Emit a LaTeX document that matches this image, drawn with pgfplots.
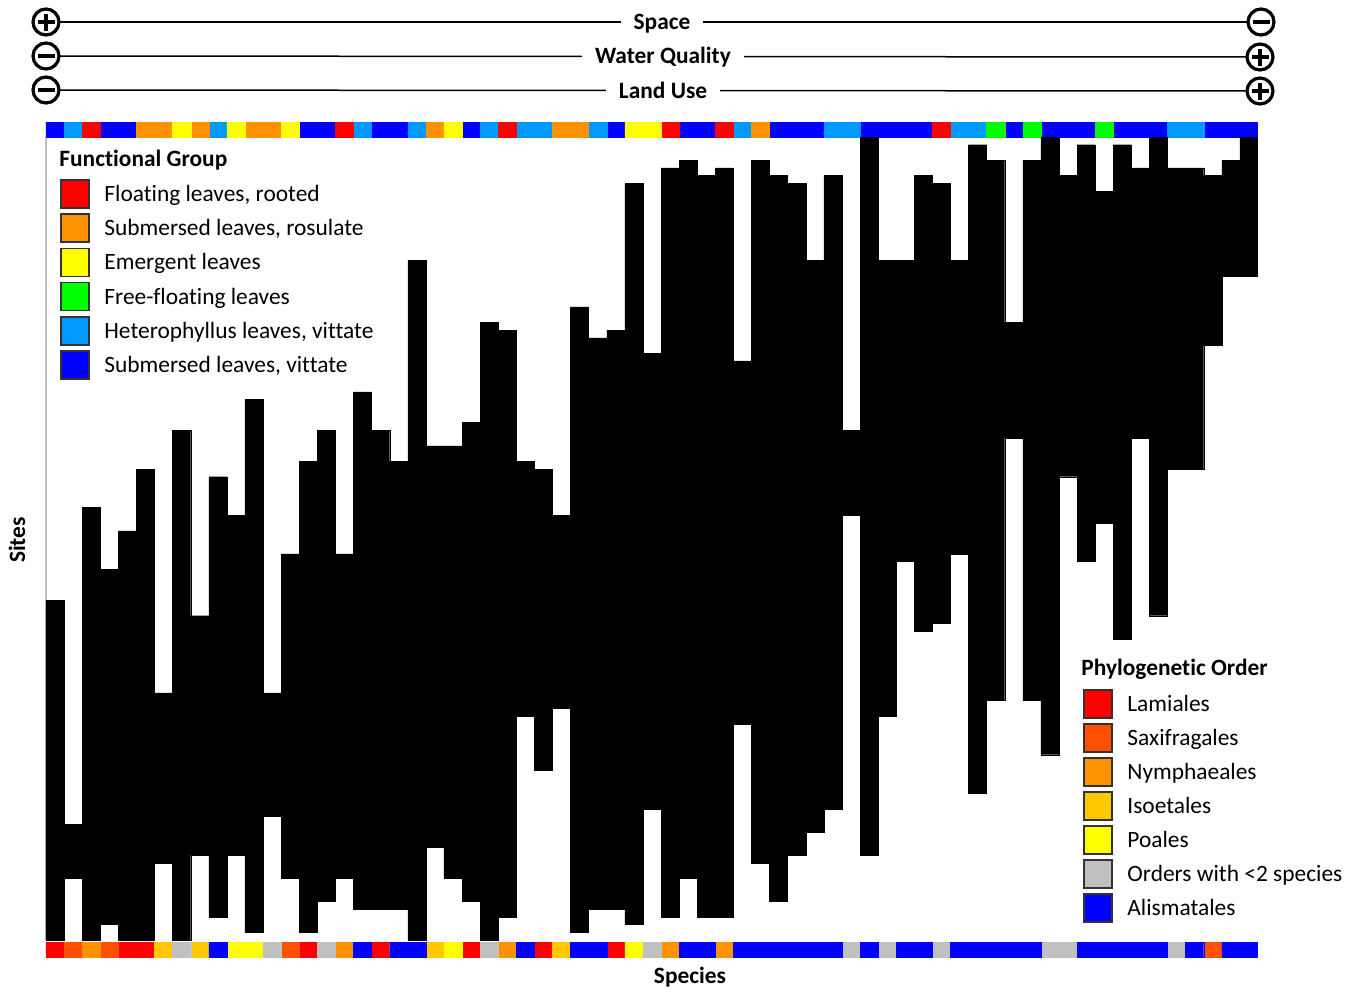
\documentclass[border=0pt]{standalone}
\usepackage{pgfplots}
\pgfplotsset{compat=1.18}
\usepackage{pgfplotstable}
\usepackage{fontspec}
\setmainfont{Carlito}[Ligatures={NoCommon}]

\definecolor{cR}{RGB}{255,0,0}
\definecolor{cO}{RGB}{255,146,0}
\definecolor{cY}{RGB}{255,255,0}
\definecolor{cG}{RGB}{0,255,0}
\definecolor{cLB}{RGB}{0,153,255}
\definecolor{cB}{RGB}{0,0,255}
\definecolor{cSax}{RGB}{255,80,0}
\definecolor{cIso}{RGB}{255,200,0}
\definecolor{cGr}{RGB}{192,192,192}

% species x site occurrence: each column = species, black from row lo to lo+len
\pgfplotstableread{
x lo len
0.5 0 44
1.5 8 7
2.5 0 56
3.5 2 46
4.5 0 53
5.5 0 61
6.5 10 22
7.5 0 66
8.5 11 31
9.5 3 57
10.5 11 44
11.5 1 69
12.5 16 16
13.5 8 42
14.5 1 61
15.5 5 61
16.5 8 42
17.5 4 67
18.5 4 62
19.5 4 58
20.5 0 88
21.5 12 52
22.5 8 56
23.5 5 62
24.5 0 80
25.5 3 76
26.5 29 33
27.5 22 39
28.5 30 25
29.5 1 81
30.5 4 74
31.5 4 75
32.5 2 96
33.5 17 59
34.5 3 97
35.5 8 93
36.5 3 96
37.5 3 97
38.5 28 47
39.5 10 91
40.5 5 94
41.5 11 87
42.5 14 74
43.5 17 82
44.5 55 11
45.5 11 93
46.5 29 59
47.5 49 39
48.5 40 59
49.5 41 57
50.5 50 38
51.5 19 84
52.5 31 70
53.5 65 15
54.5 31 70
55.5 24 80
56.5 60 39
57.5 49 54
58.5 54 43
59.5 39 64
60.5 65 35
61.5 42 62
62.5 61 39
63.5 61 39
64.5 77 22
65.5 86 15
66.5 86 18
}\occdata

\pgfplotsset{
  strip/.style={scale only axis, width=606pt, height=7.5pt,
    xmin=0, xmax=67, ymin=0, ymax=1, hide axis, ybar, bar width=1},
  cell/.style={fill=#1, draw=#1, line width=0.2pt, bar shift=0pt},
}

\newcommand\pluscirc[2]{%
  \draw[line width=1.6pt, fill=white] (#1,#2) circle[radius=6.5pt];
  \fill (#1-8.5,#2-2.2) rectangle (#1+8.5,#2+2.2);
  \fill (#1-2.2,#2-8.5) rectangle (#1+2.2,#2+8.5);}
\newcommand\minuscirc[2]{%
  \draw[line width=1.6pt, fill=white] (#1,#2) circle[radius=6.5pt];
  \fill (#1-8.5,#2-2.2) rectangle (#1+8.5,#2+2.2);}

\begin{document}
\fontsize{11.7pt}{14pt}\selectfont
\begin{tikzpicture}
\begin{scope}[x=0.5pt, y=-0.5pt]
  \path (0,0) rectangle (1355,989);
  % gradient header lines
  \draw[line width=0.75pt] (46,22) -- (1261,22);
  \draw[line width=0.75pt] (46,56) -- (1260,57);
  \draw[line width=0.75pt] (46,90) -- (1260,91);
  \node[fill=white, inner xsep=6.5pt, inner ysep=1pt, anchor=base, font=\bfseries] at (662,29.5) {Space};
  \node[fill=white, inner xsep=6.5pt, inner ysep=1pt, anchor=base, font=\bfseries] at (663,63.5) {Water Quality};
  \node[fill=white, inner xsep=6.5pt, inner ysep=1pt, anchor=base, font=\bfseries] at (663,98) {Land Use};
  \pluscirc{46}{22}
  \minuscirc{1261}{22}
  \minuscirc{46}{56}
  \pluscirc{1260}{57}
  \minuscirc{46}{90}
  \pluscirc{1260}{91}
  % left frame line
  \draw[black!25, line width=0.6pt] (46,137) -- (46,940);
\end{scope}

% top strip: functional group
\begin{axis}[strip, at={(23pt,-68.5pt)}, anchor=south west]
\addplot[cell=cB] coordinates {(0.5,1)(3.5,1)(4.5,1)(14.5,1)(15.5,1)(18.5,1)(19.5,1)(23.5,1)(31.5,1)(35.5,1)(36.5,1)(40.5,1)(41.5,1)(42.5,1)(45.5,1)(46.5,1)(47.5,1)(48.5,1)(53.5,1)(55.5,1)(56.5,1)(57.5,1)(59.5,1)(60.5,1)(61.5,1)(64.5,1)(65.5,1)(66.5,1)};
\addplot[cell=cLB] coordinates {(1.5,1)(9.5,1)(17.5,1)(20.5,1)(24.5,1)(26.5,1)(27.5,1)(30.5,1)(38.5,1)(43.5,1)(44.5,1)(50.5,1)(51.5,1)(62.5,1)(63.5,1)};
\addplot[cell=cR] coordinates {(2.5,1)(16.5,1)(25.5,1)(34.5,1)(37.5,1)(49.5,1)};
\addplot[cell=cO] coordinates {(5.5,1)(6.5,1)(8.5,1)(11.5,1)(12.5,1)(21.5,1)(28.5,1)(29.5,1)(39.5,1)};
\addplot[cell=cY] coordinates {(7.5,1)(10.5,1)(13.5,1)(22.5,1)(32.5,1)(33.5,1)};
\addplot[cell=cG] coordinates {(52.5,1)(54.5,1)(58.5,1)};
\end{axis}

% main occurrence matrix
\begin{axis}[at={(23pt,-470pt)}, anchor=south west, scale only axis,
  width=606pt, height=401.5pt, xmin=0, xmax=67, ymin=0, ymax=104,
  hide axis, ybar stacked, bar width=1]
\addplot[draw=none, fill=none] table[x=x, y=lo] {\occdata};
\addplot[fill=black, draw=black, line width=0.2pt] table[x=x, y=len] {\occdata};
\end{axis}

% bottom strip: phylogenetic order
\begin{axis}[strip, at={(23pt,-478.5pt)}, anchor=south west]
\addplot[cell=cR] coordinates {(0.5,1)(4.5,1)(5.5,1)(14.5,1)(18.5,1)(23.5,1)(27.5,1)(31.5,1)};
\addplot[cell=cSax] coordinates {(1.5,1)(3.5,1)(13.5,1)(64.5,1)};
\addplot[cell=cO] coordinates {(2.5,1)(16.5,1)(25.5,1)(34.5,1)(37.5,1)};
\addplot[cell=cIso] coordinates {(6.5,1)(8.5,1)(21.5,1)(28.5,1)};
\addplot[cell=cY] coordinates {(10.5,1)(11.5,1)(22.5,1)(32.5,1)};
\addplot[cell=cGr] coordinates {(7.5,1)(12.5,1)(15.5,1)(24.5,1)(33.5,1)(44.5,1)(46.5,1)(49.5,1)(55.5,1)(56.5,1)(62.5,1)};
\addplot[cell=cB] coordinates {(9.5,1)(17.5,1)(19.5,1)(20.5,1)(26.5,1)(29.5,1)(30.5,1)(35.5,1)(36.5,1)(38.5,1)(39.5,1)(40.5,1)(41.5,1)(42.5,1)(43.5,1)(45.5,1)(47.5,1)(48.5,1)(50.5,1)(51.5,1)(52.5,1)(53.5,1)(54.5,1)(57.5,1)(58.5,1)(59.5,1)(60.5,1)(61.5,1)(63.5,1)(65.5,1)(66.5,1)};
\end{axis}

\begin{scope}[x=0.5pt, y=-0.5pt]
  % axis labels
  \node[rotate=90, font=\bfseries] at (17,540) {Sites};
  \node[font=\bfseries] at (690,977) {Species};
  % legend: functional group
  \node[anchor=base west, inner sep=0pt, font=\bfseries] at (59,166.5) {Functional Group};
  \foreach \c/\t [count=\i from 0] in {cR/{Floating leaves, rooted}, cO/{Submersed leaves, rosulate}, cY/{Emergent leaves}, cG/{Free-floating leaves}, cLB/{Heterophyllus leaves, vittate}, cB/{Submersed leaves, vittate}} {
    \pgfmathsetmacro\yy{194+34.2*\i}
    \filldraw[fill=\c, draw=black!80, line width=0.8pt] (61,\yy-14) rectangle (89,\yy+14);
    \node[anchor=base west, inner sep=0pt] at (104,\yy+7.5) {\t};
  }
  % legend: phylogenetic order
  \node[anchor=base west, inner sep=0pt, font=\bfseries] at (1081,675.5) {Phylogenetic Order};
  \foreach \c/\t [count=\i from 0] in {cR/Lamiales, cSax/Saxifragales, cO/Nymphaeales, cIso/Isoetales, cY/Poales, cGr/{Orders with <2 species}, cB/Alismatales} {
    \pgfmathsetmacro\yy{704+34*\i}
    \filldraw[fill=\c, draw=black!80, line width=0.8pt] (1084,\yy-14) rectangle (1112,\yy+14);
    \node[anchor=base west, inner sep=0pt] at (1127,\yy+7.5) {\t};
  }
\end{scope}
\end{tikzpicture}
\end{document}
